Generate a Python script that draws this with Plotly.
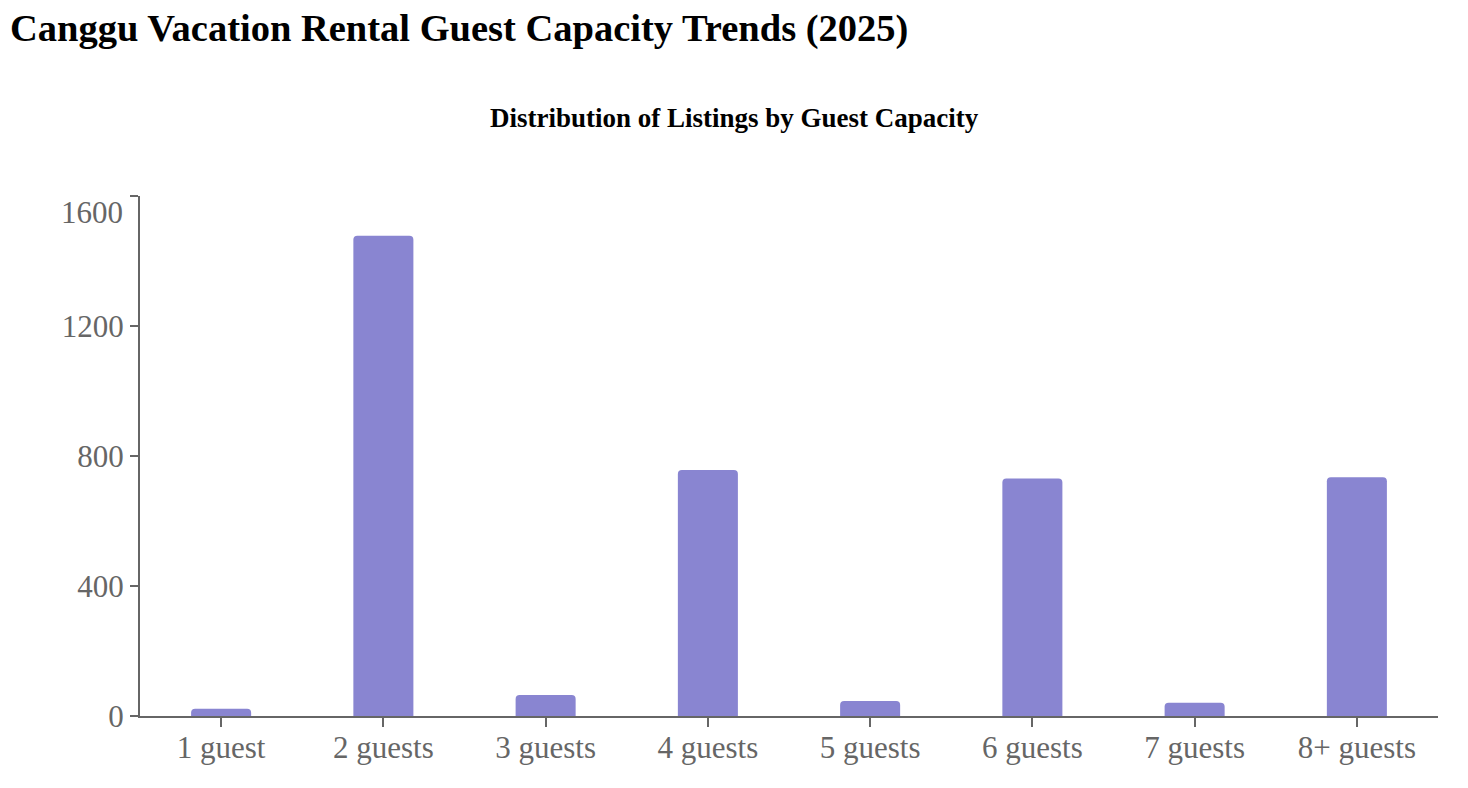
import plotly.graph_objects as go

categories = ["1 guest", "2 guests", "3 guests", "4 guests", "5 guests", "6 guests", "7 guests", "8+ guests"]
listings = [22, 1478, 65, 757, 46, 731, 41, 735]
y_ticks = [0, 400, 800, 1200, 1600]

FONT = "Liberation Serif"
GRAY = "#666666"
TICK_SIZE = 31

fig = go.Figure()
fig.add_trace(go.Bar(
    x=categories,
    y=listings,
    marker=dict(color="#8985d1", cornerradius=4, line=dict(width=0)),
    hoverinfo="x+y",
))

fig.update_layout(
    width=1468,
    height=788,
    margin=dict(l=132, r=38, t=188, b=80),
    paper_bgcolor="white",
    plot_bgcolor="white",
    bargap=0.63,
    showlegend=False,
    xaxis=dict(
        showline=True, linecolor=GRAY, linewidth=2,
        ticks="outside", ticklen=9, tickwidth=1.5, tickcolor=GRAY,
        ticklabelstandoff=-6,
        tickfont=dict(family=FONT, size=TICK_SIZE, color=GRAY),
        showgrid=False, zeroline=False,
    ),
    yaxis=dict(
        range=[0, 1600],
        tickvals=y_ticks,
        ticktext=[str(v) if v != y_ticks[-1] else "" for v in y_ticks],
        showline=True, linecolor=GRAY, linewidth=2,
        ticks="outside", ticklen=8, tickwidth=1.5, tickcolor=GRAY,
        tickfont=dict(family=FONT, size=TICK_SIZE, color=GRAY),
        showgrid=False, zeroline=False,
    ),
    annotations=[
        dict(
            text="<b>Canggu Vacation Rental Guest Capacity Trends (2025)</b>",
            xref="paper", yref="paper",
            x=-132 / 1298, y=1 + (188 - 20) / 520,
            xanchor="left", yanchor="middle", showarrow=False,
            font=dict(family=FONT, size=38.5, color="black"),
        ),
        dict(
            text="<b>Distribution of Listings by Guest Capacity</b>",
            xref="paper", yref="paper",
            x=(726 - 132) / 1298, y=1 + (188 - 110) / 520,
            xanchor="center", yanchor="middle", showarrow=False,
            font=dict(family=FONT, size=27, color="black"),
        ),
        dict(
            text=str(y_ticks[-1]),
            xref="paper", yref="y",
            x=0, y=y_ticks[-1], xshift=-15, yshift=-16,
            xanchor="right", yanchor="middle", showarrow=False,
            font=dict(family=FONT, size=TICK_SIZE, color=GRAY),
        ),
    ],
)

fig.write_html("out.html")
